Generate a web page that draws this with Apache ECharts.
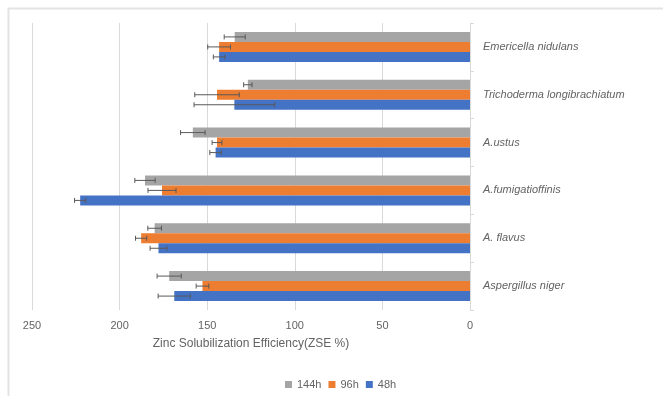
<!DOCTYPE html>
<html>
<head>
<meta charset="utf-8">
<script src="https://cdn.jsdelivr.net/npm/echarts@6/dist/echarts.min.js"></script>
<style>
  html, body { margin: 0; padding: 0; background: #fff; }
  #chart { width: 663px; height: 396px; }
</style>
</head>
<body>
<div id="chart"></div>
<script>
// Fungal isolates, listed bottom to top along the category axis
const categories = ['Aspergillus niger', 'A. flavus', 'A.fumigatioffinis', 'A.ustus', 'Trichoderma longibrachiatum', 'Emericella nidulans'];

// Zinc solubilization efficiency (ZSE %) and standard error per incubation time
const zse144h = [171.7, 180.0, 185.5, 158.2, 126.8, 134.3];
const err144h = [6.9, 3.9, 5.8, 7.0, 2.4, 6.0];
const zse96h  = [152.7, 187.7, 175.8, 144.4, 144.4, 143.2];
const err96h  = [3.6, 3.2, 8.0, 2.8, 12.7, 6.5];
const zse48h  = [168.8, 177.8, 222.5, 145.2, 134.5, 143.2];
const err48h  = [9.2, 4.8, 3.2, 3.3, 23.0, 3.3];

const xTicks = { min: 0, max: 250, interval: 50 };

const FONT = '"Liberation Sans", Arial, sans-serif';
const TEXT = '#636363';
const BAR_W = 10;

// Error bar overlay: whisker with end caps, shifted to the slot of its bar
function errorSeries(name, vals, errs, slot) {
  return {
    type: 'custom',
    name: name + ' err',
    z: 5,
    silent: true,
    data: vals.map((v, i) => [v, i, errs[i]]),
    encode: { x: 0, y: 1 },
    renderItem: function (params, api) {
      const v = api.value(0), cat = api.value(1), e = api.value(2);
      const offset = (slot - 1) * BAR_W;
      const lo = api.coord([v - e, cat]);
      const hi = api.coord([v + e, cat]);
      const y = lo[1] + offset;
      const cap = 2.5;
      const style = { stroke: '#595959', lineWidth: 1 };
      return {
        type: 'group',
        children: [
          { type: 'line', shape: { x1: lo[0], y1: y, x2: hi[0], y2: y }, style },
          { type: 'line', shape: { x1: lo[0], y1: y - cap, x2: lo[0], y2: y + cap }, style },
          { type: 'line', shape: { x1: hi[0], y1: y - cap, x2: hi[0], y2: y + cap }, style }
        ]
      };
    }
  };
}

function barSeries(name, vals, color) {
  return {
    type: 'bar',
    name: name,
    data: vals,
    barWidth: BAR_W,
    barGap: '0%',
    itemStyle: { color: color },
    emphasis: { disabled: true }
  };
}

const chart = echarts.init(document.getElementById('chart'));
chart.setOption({
  animation: false,
  backgroundColor: '#fff',
  textStyle: { fontFamily: FONT },
  graphic: [{
    type: 'rect',
    shape: { x: 8.5, y: 8.5, width: 700, height: 420 },
    style: { fill: 'none', stroke: '#e3e3e3', lineWidth: 2 },
    silent: true
  }],
  grid: { left: 32, right: 193, top: 23, bottom: 86 },
  legend: {
    data: ['144h', '96h', '48h'],
    top: 374,
    left: 280,
    itemWidth: 7,
    itemHeight: 7,
    itemGap: 7,
    icon: 'rect',
    textStyle: { color: TEXT, fontSize: 11, fontFamily: FONT }
  },
  xAxis: {
    type: 'value',
    inverse: true,
    min: xTicks.min,
    max: xTicks.max,
    interval: xTicks.interval,
    axisLine: { show: false },
    axisTick: { show: false },
    splitLine: { lineStyle: { color: '#d9d9d9' } },
    axisLabel: { color: TEXT, fontSize: 11, margin: 10 },
    name: 'Zinc Solubilization Efficiency(ZSE %)',
    nameLocation: 'middle',
    nameGap: 28,
    nameTextStyle: { color: TEXT, fontSize: 12 }
  },
  yAxis: {
    type: 'category',
    position: 'right',
    data: categories,
    axisLine: { show: true, lineStyle: { color: '#d9d9d9' } },
    axisTick: { show: true, length: 4, lineStyle: { color: '#d9d9d9' } },
    axisLabel: { color: TEXT, fontSize: 11, fontStyle: 'italic', margin: 13 }
  },
  series: [
    barSeries('144h', zse144h, '#a5a5a5'),
    barSeries('96h', zse96h, '#ed7d31'),
    barSeries('48h', zse48h, '#4472c4'),
    errorSeries('144h', zse144h, err144h, 0),
    errorSeries('96h', zse96h, err96h, 1),
    errorSeries('48h', zse48h, err48h, 2)
  ]
});
</script>
</body>
</html>
